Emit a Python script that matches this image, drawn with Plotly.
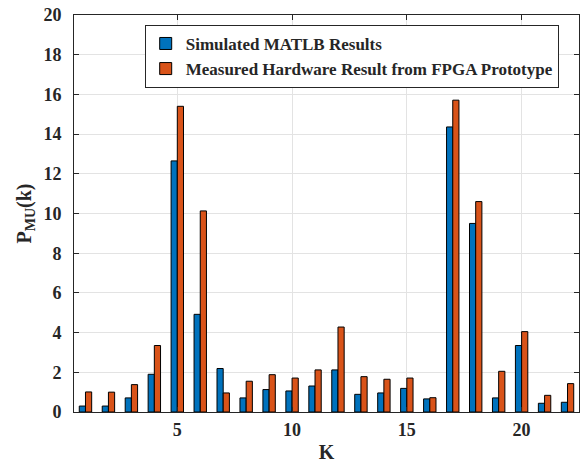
import plotly.graph_objects as go

# Bin index K
k = list(range(1, 23))

# P_MU(k) per bin
simulated = [0.30, 0.30, 0.71, 1.90, 12.65, 4.92, 2.19, 0.71, 1.13, 1.06, 1.31,
             2.12, 0.89, 0.96, 1.19, 0.66, 14.36, 9.50, 0.71, 3.35, 0.44, 0.49]
measured = [1.01, 1.00, 1.38, 3.35, 15.40, 10.13, 0.96, 1.55, 1.88, 1.71, 2.12,
            4.28, 1.78, 1.65, 1.71, 0.72, 15.71, 10.60, 2.05, 4.05, 0.84, 1.43]

x_ticks = [5, 10, 15, 20]
y_ticks = list(range(0, 21, 2))

font_family = "Liberation Serif"

fig = go.Figure()
fig.add_trace(go.Bar(
    x=k, y=simulated, name="Simulated MATLB Results",
    marker=dict(color="#0072BD", line=dict(color="black", width=1)),
))
fig.add_trace(go.Bar(
    x=k, y=measured, name="Measured Hardware Result from FPGA Prototype",
    marker=dict(color="#D95319", line=dict(color="black", width=1)),
))

axis_common = dict(
    showline=True, linecolor="#262626", linewidth=1, mirror="ticks",
    ticks="inside", ticklen=5, tickcolor="#262626",
    showgrid=True, gridcolor="#E3E3E3", gridwidth=1, zeroline=False,
    tickfont=dict(family=font_family, size=18, color="#262626", weight="bold"),
)

fig.update_layout(
    width=581, height=466,
    margin=dict(l=74, r=2, t=15, b=54),
    paper_bgcolor="white", plot_bgcolor="white",
    barmode="group", bargap=0.46, bargroupgap=0,
    font=dict(family=font_family, color="#262626", weight="bold"),
    xaxis=dict(
        range=[0.5, 22.5], tickvals=x_ticks,
        ticklabelstandoff=1,
        title=dict(text="K", font=dict(family=font_family, size=20, weight="bold"), standoff=6),
        **axis_common,
    ),
    yaxis=dict(
        range=[0, 20], tickvals=y_ticks,
        ticklabelstandoff=8,
        title=dict(text="P<sub>MU</sub>(k)", font=dict(family=font_family, size=20, weight="bold"), standoff=6),
        **axis_common,
    ),
    legend=dict(
        x=0.14, y=0.975, xanchor="left", yanchor="top",
        bgcolor="white", bordercolor="#262626", borderwidth=1,
        font=dict(family=font_family, size=17, color="#262626", weight="bold"),
        itemwidth=30, tracegroupgap=0,
    ),
)

fig.write_html("out.html")
